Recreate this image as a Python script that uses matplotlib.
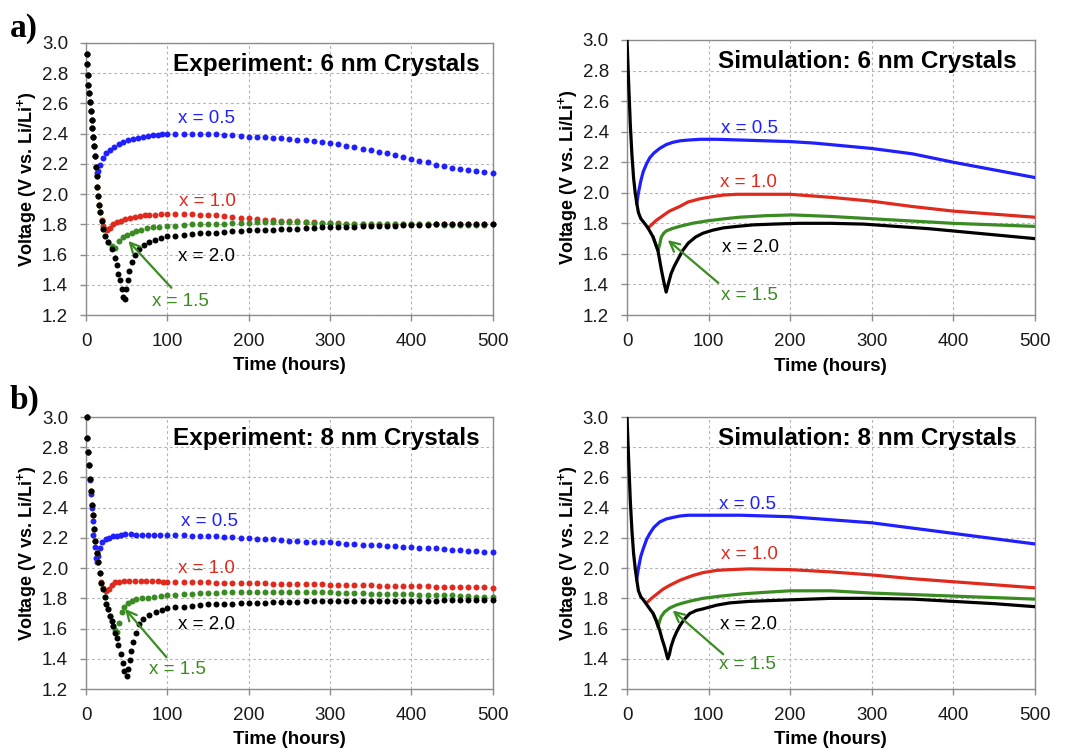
import matplotlib
matplotlib.use("Agg")
import matplotlib.pyplot as plt
from matplotlib.ticker import FormatStrFormatter

plt.rcParams['font.family'] = ['Liberation Sans', 'DejaVu Sans']
plt.rcParams['mathtext.fontset'] = 'custom'
plt.rcParams['mathtext.rm'] = 'Liberation Sans'
plt.rcParams['mathtext.bf'] = 'Liberation Sans:bold'

BLUE = '#1f1fff'
RED = '#e02a1e'
GREEN = '#3a8c22'
BLACK = '#000000'

# ---------------- data ----------------
# late part of the experimental curves, one dot every 10 h
T_LATE = [100, 110, 120, 130, 140, 150, 160, 170, 180, 190, 200,
          210, 220, 230, 240, 250, 260, 270, 280, 290, 300,
          310, 320, 330, 340, 350, 360, 370, 380, 390, 400,
          410, 420, 430, 440, 450, 460, 470, 480, 490, 500]

# Experiment, 6 nm
exp6_blue_t = [1, 1.6, 2.2, 2.9, 3.7, 4.9, 5.7, 7, 7.8, 9, 9.8, 11, 12, 13, 15, 17, 21, 25, 30, 35,
               40, 46, 52, 58, 64, 70, 76, 82, 88, 94]
exp6_blue_v = [2.93, 2.86, 2.79, 2.72, 2.67, 2.61, 2.55, 2.49, 2.44, 2.38, 2.32, 2.25, 2.18, 2.14, 2.15,
               2.19, 2.24, 2.27, 2.29, 2.31, 2.33, 2.345, 2.355, 2.365, 2.37, 2.38, 2.385, 2.39, 2.393, 2.397]
exp6_blue_late = [2.40, 2.40, 2.40, 2.40, 2.40, 2.40, 2.395, 2.39, 2.39, 2.385, 2.38,
                  2.38, 2.375, 2.37, 2.37, 2.365, 2.36, 2.355, 2.35, 2.345, 2.34,
                  2.33, 2.32, 2.31, 2.30, 2.29, 2.28, 2.27, 2.26, 2.245, 2.23,
                  2.22, 2.21, 2.195, 2.185, 2.175, 2.165, 2.16, 2.155, 2.145, 2.14]

exp6_red_t = [1, 1.6, 2.2, 2.9, 3.7, 4.9, 5.7, 7, 7.8, 9, 9.8, 11, 11.9, 13.1, 13.9, 15.2, 16.4, 17.2,
              19.3, 21.3, 23.4, 26, 29, 33, 38, 43, 48, 54, 60, 66, 72, 78, 85, 92]
exp6_red_v = [2.93, 2.86, 2.79, 2.72, 2.67, 2.61, 2.55, 2.49, 2.44, 2.38, 2.32, 2.25, 2.18, 2.12, 2.05,
              1.99, 1.93, 1.88, 1.83, 1.79, 1.77, 1.76, 1.775, 1.80, 1.815, 1.825, 1.835, 1.845, 1.85,
              1.855, 1.86, 1.865, 1.865, 1.87]
exp6_red_late = [1.87, 1.87, 1.87, 1.87, 1.865, 1.865, 1.86, 1.855, 1.85, 1.845, 1.84,
                 1.835, 1.83, 1.83, 1.825, 1.82, 1.82, 1.815, 1.815, 1.81, 1.81,
                 1.81, 1.805, 1.805, 1.805, 1.80, 1.80, 1.80, 1.80, 1.80, 1.80,
                 1.80, 1.80, 1.80, 1.80, 1.80, 1.80, 1.80, 1.80, 1.80, 1.80]

exp6_green_t = [1, 1.6, 2.2, 2.9, 3.7, 4.9, 5.7, 7, 7.8, 9, 9.8, 11, 11.9, 13.1, 13.9, 15.2, 16.4, 17.2,
                19.3, 21.3, 23.4, 27.5, 31.6, 35.5, 40, 45, 50, 56, 62, 68, 75, 82, 90]
exp6_green_v = [2.93, 2.86, 2.79, 2.72, 2.67, 2.61, 2.55, 2.49, 2.44, 2.38, 2.32, 2.25, 2.18, 2.12, 2.05,
                1.99, 1.93, 1.88, 1.82, 1.77, 1.72, 1.68, 1.655, 1.645, 1.69, 1.715, 1.73, 1.745, 1.755,
                1.765, 1.775, 1.78, 1.785]
exp6_green_late = [1.79, 1.79, 1.795, 1.80, 1.80, 1.80, 1.805, 1.805, 1.81, 1.81, 1.81,
                   1.815, 1.815, 1.815, 1.815, 1.815, 1.815, 1.815, 1.81, 1.81, 1.81,
                   1.805, 1.805, 1.80, 1.80, 1.80, 1.80, 1.80, 1.80, 1.80, 1.80,
                   1.80, 1.80, 1.80, 1.795, 1.795, 1.795, 1.795, 1.795, 1.795, 1.80]

exp6_black_t = [1, 1.6, 2.2, 2.9, 3.7, 4.9, 5.7, 7, 7.8, 9, 9.8, 11, 11.9, 13.1, 13.9, 15.2, 16.4, 17.2,
                19.3, 21.3, 23.4, 27.5, 31.6, 35.7, 37.7, 39.8, 41.8, 43.9, 45.9, 48, 49.5, 51, 53, 56,
                60, 65, 71, 78, 85, 92]
exp6_black_v = [2.93, 2.86, 2.79, 2.72, 2.67, 2.61, 2.55, 2.49, 2.44, 2.38, 2.32, 2.25, 2.18, 2.12, 2.05,
                1.99, 1.93, 1.88, 1.82, 1.77, 1.72, 1.68, 1.64, 1.58, 1.53, 1.47, 1.43, 1.37, 1.32, 1.305,
                1.37, 1.43, 1.49, 1.55, 1.60, 1.635, 1.66, 1.68, 1.695, 1.71]
exp6_black_late = [1.72, 1.725, 1.73, 1.735, 1.74, 1.74, 1.745, 1.75, 1.755, 1.755, 1.76,
                   1.76, 1.765, 1.765, 1.77, 1.77, 1.77, 1.775, 1.775, 1.78, 1.78,
                   1.78, 1.785, 1.785, 1.79, 1.79, 1.79, 1.79, 1.79, 1.795, 1.795,
                   1.795, 1.795, 1.80, 1.80, 1.80, 1.80, 1.80, 1.80, 1.80, 1.80]

# Experiment, 8 nm
exp8_blue_t = [1, 1.6, 2.9, 3.7, 4.9, 5.7, 7, 8, 9, 10.5, 12, 13.5, 15, 17, 20, 24, 28, 33, 38, 43,
               48, 55, 62, 69, 76, 83, 91]
exp8_blue_v = [3.0, 2.86, 2.77, 2.68, 2.58, 2.49, 2.40, 2.31, 2.22, 2.14, 2.07, 2.04, 2.08, 2.13, 2.17,
               2.19, 2.20, 2.21, 2.215, 2.22, 2.225, 2.225, 2.22, 2.22, 2.22, 2.22, 2.22]
exp8_blue_late = [2.22, 2.22, 2.22, 2.215, 2.215, 2.21, 2.21, 2.205, 2.205, 2.20, 2.20,
                  2.195, 2.19, 2.19, 2.185, 2.18, 2.18, 2.175, 2.175, 2.17, 2.17,
                  2.165, 2.16, 2.16, 2.155, 2.15, 2.15, 2.145, 2.145, 2.14, 2.14,
                  2.135, 2.13, 2.13, 2.125, 2.12, 2.12, 2.115, 2.115, 2.11, 2.11]

exp8_red_t = [1, 1.6, 2.9, 3.7, 4.9, 5.7, 7, 8.2, 9.8, 11, 13, 15, 17, 19, 21, 24, 28, 32, 36, 41,
              47, 53, 60, 67, 74, 81, 88, 95]
exp8_red_v = [3.0, 2.86, 2.77, 2.68, 2.59, 2.51, 2.42, 2.35, 2.26, 2.18, 2.10, 2.04, 1.97, 1.91, 1.87,
              1.85, 1.86, 1.89, 1.905, 1.91, 1.915, 1.915, 1.915, 1.915, 1.915, 1.915, 1.912, 1.91]
exp8_red_late = [1.91, 1.91, 1.91, 1.908, 1.906, 1.905, 1.904, 1.903, 1.902, 1.901, 1.90,
                 1.90, 1.899, 1.898, 1.897, 1.896, 1.895, 1.894, 1.893, 1.892, 1.89,
                 1.89, 1.889, 1.888, 1.887, 1.886, 1.885, 1.884, 1.883, 1.882, 1.88,
                 1.88, 1.879, 1.878, 1.877, 1.876, 1.875, 1.874, 1.873, 1.872, 1.87]

exp8_green_t = [1, 1.6, 2.9, 3.7, 4.9, 5.7, 7, 8.2, 9.8, 11, 13, 15, 17, 19, 21, 23, 25, 27.5, 29.5,
                31.6, 33.6, 36, 38, 41, 44, 47, 51, 56, 62, 69, 76, 84, 92]
exp8_green_v = [3.0, 2.86, 2.77, 2.68, 2.59, 2.51, 2.42, 2.35, 2.26, 2.18, 2.10, 2.04, 1.97, 1.90, 1.86,
                1.81, 1.76, 1.73, 1.68, 1.65, 1.62, 1.59, 1.575, 1.64, 1.71, 1.745, 1.77, 1.785, 1.795,
                1.80, 1.805, 1.81, 1.815]
exp8_green_late = [1.82, 1.825, 1.83, 1.83, 1.835, 1.835, 1.835, 1.84, 1.84, 1.84, 1.84,
                   1.84, 1.84, 1.84, 1.84, 1.84, 1.84, 1.84, 1.84, 1.84, 1.84,
                   1.835, 1.835, 1.835, 1.835, 1.83, 1.83, 1.83, 1.83, 1.83, 1.83,
                   1.825, 1.825, 1.82, 1.82, 1.82, 1.815, 1.815, 1.81, 1.81, 1.81]

exp8_black_t = [1, 1.6, 2.9, 3.7, 4.9, 5.7, 7, 8.2, 9.8, 11, 13, 15, 17, 19, 21, 23, 25, 27.5, 29.5,
                31.6, 33.6, 35.7, 37.7, 39.8, 42.6, 45, 47, 50, 52, 53.5, 55.5, 58, 61, 65, 70, 78,
                86, 94]
exp8_black_v = [3.0, 2.86, 2.77, 2.68, 2.59, 2.51, 2.42, 2.35, 2.26, 2.18, 2.10, 2.04, 1.97, 1.90, 1.86,
                1.81, 1.76, 1.73, 1.68, 1.65, 1.62, 1.57, 1.54, 1.49, 1.43, 1.375, 1.32, 1.285, 1.33,
                1.39, 1.45, 1.51, 1.57, 1.63, 1.665, 1.69, 1.71, 1.725]
exp8_black_late = [1.735, 1.74, 1.745, 1.75, 1.755, 1.76, 1.76, 1.765, 1.765, 1.77, 1.77,
                   1.77, 1.77, 1.775, 1.775, 1.775, 1.775, 1.78, 1.78, 1.78, 1.78,
                   1.78, 1.78, 1.78, 1.78, 1.78, 1.78, 1.78, 1.785, 1.785, 1.785,
                   1.785, 1.785, 1.785, 1.79, 1.79, 1.79, 1.79, 1.79, 1.79, 1.79]

# Simulation, 6 nm
sim6_black_t = [0, 2, 4, 6, 8, 10, 12, 14, 17, 20, 25.7, 32, 38, 42, 45, 48, 51, 54, 58, 62.5, 68, 75,
                84, 93, 105, 118, 135, 155, 180, 210, 250, 290, 330, 370, 410, 450, 500]
sim6_black_v = [3.0, 2.72, 2.45, 2.25, 2.10, 2.0, 1.93, 1.87, 1.83, 1.81, 1.77, 1.71, 1.62, 1.50, 1.42,
                1.35, 1.41, 1.47, 1.52, 1.565, 1.62, 1.67, 1.71, 1.735, 1.755, 1.77, 1.78, 1.79, 1.795,
                1.80, 1.80, 1.795, 1.78, 1.765, 1.745, 1.725, 1.70]
sim6_blue_t = [12, 14, 17, 20, 24, 28, 33, 40, 48, 56, 65, 75, 90, 110, 140, 170, 200, 230, 260, 300,
               350, 400, 450, 500]
sim6_blue_v = [1.93, 2.00, 2.08, 2.14, 2.19, 2.23, 2.26, 2.29, 2.315, 2.33, 2.34, 2.345, 2.35, 2.35,
               2.345, 2.34, 2.335, 2.325, 2.31, 2.29, 2.255, 2.20, 2.15, 2.10]
sim6_red_t = [25.7, 30, 36, 44, 52, 64.5, 75, 89, 105, 118, 135, 158, 200, 250, 300, 350, 400, 450, 500]
sim6_red_v = [1.77, 1.79, 1.82, 1.85, 1.88, 1.91, 1.94, 1.96, 1.975, 1.985, 1.99, 1.99, 1.99, 1.97,
              1.945, 1.91, 1.88, 1.86, 1.84]
sim6_green_t = [32, 36, 38, 40, 42, 45, 48, 55, 64.5, 80, 97, 120, 138, 170, 203, 250, 300, 350, 400,
                450, 500]
sim6_green_v = [1.71, 1.65, 1.62, 1.66, 1.71, 1.735, 1.75, 1.765, 1.78, 1.80, 1.815, 1.83, 1.84, 1.85,
                1.855, 1.845, 1.83, 1.815, 1.80, 1.79, 1.78]

# Simulation, 8 nm
sim8_black_t = [0, 2, 4, 6, 8, 10, 12, 14, 17, 20, 24, 28, 32, 36, 40, 43, 46, 48, 50, 52, 54, 57, 61,
                65, 70, 77, 85, 93, 110, 126, 150, 200, 250, 300, 350, 400, 450, 500]
sim8_black_v = [3.0, 2.72, 2.45, 2.25, 2.10, 2.0, 1.92, 1.85, 1.81, 1.79, 1.76, 1.73, 1.70, 1.65, 1.59,
                1.53, 1.48, 1.44, 1.40, 1.43, 1.48, 1.53, 1.58, 1.62, 1.66, 1.70, 1.72, 1.73, 1.755,
                1.77, 1.78, 1.79, 1.80, 1.80, 1.795, 1.78, 1.765, 1.745]
sim8_blue_t = [12, 14, 17, 20, 24, 28, 33, 40, 48, 56, 65, 75, 90, 110, 140, 170, 200, 250, 300, 350,
               400, 450, 500]
sim8_blue_v = [1.93, 2.00, 2.08, 2.13, 2.19, 2.23, 2.27, 2.305, 2.325, 2.335, 2.345, 2.35, 2.35, 2.35,
               2.35, 2.345, 2.34, 2.32, 2.30, 2.265, 2.23, 2.195, 2.16]
sim8_red_t = [24, 30, 37, 44, 52, 65, 80, 93, 110, 126, 150, 200, 250, 300, 350, 400, 450, 500]
sim8_red_v = [1.77, 1.80, 1.83, 1.86, 1.885, 1.92, 1.95, 1.97, 1.985, 1.99, 1.995, 1.99, 1.975, 1.955,
              1.93, 1.91, 1.89, 1.87]
sim8_green_t = [32, 36, 38, 40, 42, 46, 52, 60, 69, 80, 93, 115, 142, 170, 200, 250, 300, 350, 400,
                450, 500]
sim8_green_v = [1.70, 1.65, 1.61, 1.65, 1.68, 1.71, 1.735, 1.755, 1.77, 1.785, 1.80, 1.815, 1.83, 1.84,
                1.85, 1.85, 1.835, 1.825, 1.815, 1.805, 1.795]

LABELS = ['x = 0.5', 'x = 1.0', 'x = 1.5', 'x = 2.0']
COLORS = [BLUE, RED, GREEN, BLACK]


def style_axes(ax, title):
    ax.set_xlim(0, 500)
    ax.set_ylim(1.2, 3.0)
    ax.set_xticks([0, 100, 200, 300, 400, 500])
    ax.set_yticks([1.2, 1.4, 1.6, 1.8, 2.0, 2.2, 2.4, 2.6, 2.8, 3.0])
    ax.yaxis.set_major_formatter(FormatStrFormatter('%.1f'))
    ax.grid(True, color='#b4b4b4', linestyle=(0, (2.5, 2.5)), linewidth=0.8)
    ax.set_axisbelow(True)
    for s in ax.spines.values():
        s.set_color('#8c8c8c')
        s.set_linewidth(1.0)
    ax.tick_params(direction='out', length=4, width=1, color='#8c8c8c',
                   labelsize=13.5, labelcolor='#1a1a1a', pad=9)
    ax.set_xlabel('Time (hours)', fontsize=13.5, fontweight='bold')
    ax.set_ylabel(r'Voltage (V vs. Li/Li$^{\mathbf{+}}$)', fontsize=13, fontweight='bold')
    ax.xaxis.set_label_coords(0.5, -0.155)
    ax.yaxis.set_label_coords(-0.115, 0.5)
    ax.text(295, 2.86, title, fontsize=17.5, fontweight='bold', ha='center', va='center')


def add_labels(ax, pos, arrow):
    for lab, col, (x, y) in zip(LABELS, COLORS, pos):
        ax.text(x, y, lab, color=col, fontsize=13.5, ha='center', va='center')
    ax.annotate('', xy=arrow[1], xytext=arrow[0],
                arrowprops=dict(arrowstyle='->,head_length=0.7,head_width=0.35',
                                color=GREEN, lw=1.6, shrinkA=0, shrinkB=0))


fig = plt.figure(figsize=(10.7, 7.5), dpi=100)
ax_a1 = fig.add_axes([0.0804, 0.58, 0.380, 0.3627])
ax_a2 = fig.add_axes([0.586, 0.58, 0.381, 0.3667])
ax_b1 = fig.add_axes([0.0804, 0.0813, 0.380, 0.3627])
ax_b2 = fig.add_axes([0.586, 0.0813, 0.381, 0.3627])

# experiment panels: dots
for ax, series in [
    (ax_a1, [(exp6_blue_t, exp6_blue_v, exp6_blue_late), (exp6_red_t, exp6_red_v, exp6_red_late),
             (exp6_green_t, exp6_green_v, exp6_green_late), (exp6_black_t, exp6_black_v, exp6_black_late)]),
    (ax_b1, [(exp8_blue_t, exp8_blue_v, exp8_blue_late), (exp8_red_t, exp8_red_v, exp8_red_late),
             (exp8_green_t, exp8_green_v, exp8_green_late), (exp8_black_t, exp8_black_v, exp8_black_late)])]:
    for (t, v, late), col in zip(series, COLORS):
        ax.plot(t + T_LATE, v + late, linestyle='none', marker='o', markersize=4.3,
                markeredgewidth=0, color=col, clip_on=False, zorder=3)

# simulation panels: lines
for ax, series in [
    (ax_a2, [(sim6_blue_t, sim6_blue_v), (sim6_red_t, sim6_red_v),
             (sim6_green_t, sim6_green_v), (sim6_black_t, sim6_black_v)]),
    (ax_b2, [(sim8_blue_t, sim8_blue_v), (sim8_red_t, sim8_red_v),
             (sim8_green_t, sim8_green_v), (sim8_black_t, sim8_black_v)])]:
    for (t, v), col in zip(series, COLORS):
        ax.plot(t, v, color=col, linewidth=2.3, solid_joinstyle='round', zorder=3)

style_axes(ax_a1, 'Experiment: 6 nm Crystals')
style_axes(ax_a2, 'Simulation: 6 nm Crystals')
style_axes(ax_b1, 'Experiment: 8 nm Crystals')
style_axes(ax_b2, 'Simulation: 8 nm Crystals')

add_labels(ax_a1, [(148, 2.50), (149, 1.95), (116, 1.29), (148, 1.59)], [(105, 1.38), (52, 1.69)])
add_labels(ax_a2, [(150, 2.42), (149, 2.07), (150, 1.33), (152, 1.64)], [(112, 1.41), (50, 1.69)])
add_labels(ax_b1, [(152, 2.31), (148, 2.00), (113, 1.33), (148, 1.63)], [(99, 1.41), (48, 1.73)])
add_labels(ax_b2, [(148, 2.42), (150, 2.09), (148, 1.36), (149, 1.63)], [(118, 1.43), (56, 1.72)])

fig.text(0.009, 1 - 29 / 750, 'a)', family='Liberation Serif', fontweight='bold', fontsize=24,
         va='center', ha='left')
fig.text(0.009, 1 - 400 / 750, 'b)', family='Liberation Serif', fontweight='bold', fontsize=24,
         va='center', ha='left')

fig.savefig('out.png', dpi=100)
